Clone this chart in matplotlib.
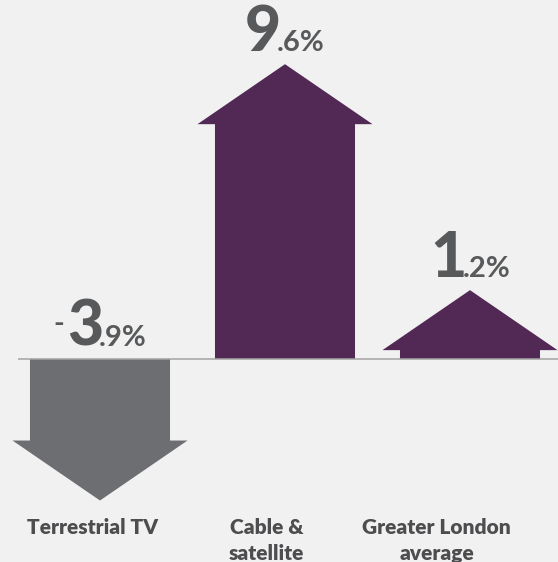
import numpy as np
import matplotlib.pyplot as plt
from matplotlib.patches import Polygon
from matplotlib import transforms

# change in share of households, per platform
categories = ['Terrestrial TV', 'Cable &\nsatellite', 'Greater London\naverage']
changes = [-3.9, 9.6, 1.2]
colours = ['#6d6e71', '#522854', '#522854']

# where the category captions sit along x (arrows sit at 0, 1, 2)
label_x = [-0.04, 0.90, 1.82]

bg = '#f1f1f1'
text_col = '#58595b'
font = ['Lato', 'DejaVu Sans']

# arrow shape, in data units
shaft_w = 0.757
head_w = 0.946
head_len = 2.23
overshoot = 1.36
label_gap = 0.5

fig = plt.figure(figsize=(5.58, 5.62), dpi=100, facecolor=bg)
ax = fig.add_axes([0, 0, 1, 1])
ax.set_facecolor(bg)
ax.set_xlim(-0.5405, 2.4757)
ax.set_ylim(-7.546, 13.346)
ax.axis('off')


def arrow(x, v, colour):
    s = np.sign(v)
    tip = v + s * overshoot
    neck = tip - s * head_len
    pts = [(x - shaft_w / 2, 0), (x - shaft_w / 2, neck), (x - head_w / 2, neck),
           (x, tip), (x + head_w / 2, neck), (x + shaft_w / 2, neck),
           (x + shaft_w / 2, 0)]
    ax.add_patch(Polygon(pts, closed=True, facecolor=colour, edgecolor='none', zorder=2))
    return tip


for i, (v, c) in enumerate(zip(changes, colours)):
    arrow(i, v, c)

# zero line
ax.plot([-0.443, 2.4757], [0, 0], color='#a3a3a3', lw=1.1, zorder=3,
        solid_capstyle='butt')

# value labels: big whole number, small sign and decimals
renderer = fig.canvas.get_renderer()
for i, v in enumerate(changes):
    whole, frac = f'{abs(v):.1f}'.split('.')
    y = max(v + np.sign(v) * overshoot, 0) + label_gap
    # (text, size, weight, raise px, extra advance px)
    parts = []
    if v < 0:
        parts.append(('-', 21, 'bold', 14, 3))
    parts.append((whole, 45, 'black', 0, -4))
    parts.append(('.' + frac + '%', 21, 'bold', 0, 0))
    texts = []
    for s, size, wt, rise, extra in parts:
        t = ax.text(i, y, s, fontsize=size, fontweight=wt, family=font,
                    color=text_col, ha='left', va='baseline')
        texts.append((t, rise))
    widths = [t.get_window_extent(renderer).width + p[4] for (t, _), p in zip(texts, parts)]
    dx = -sum(widths) / 2
    for (t, rise), w in zip(texts, widths):
        t.set_transform(transforms.offset_copy(ax.transData, fig, x=dx, y=rise, units='dots'))
        dx += w

# category captions, one text per line
line_step = 0.967
for lx, name in zip(label_x, categories):
    for k, line in enumerate(name.split('\n')):
        ax.text(lx, -6.506 - k * line_step, line, fontsize=15, fontweight='heavy',
                family=font, color='#4d4d4f', ha='center', va='baseline')

fig.savefig('out.png', dpi=100, facecolor=bg)
